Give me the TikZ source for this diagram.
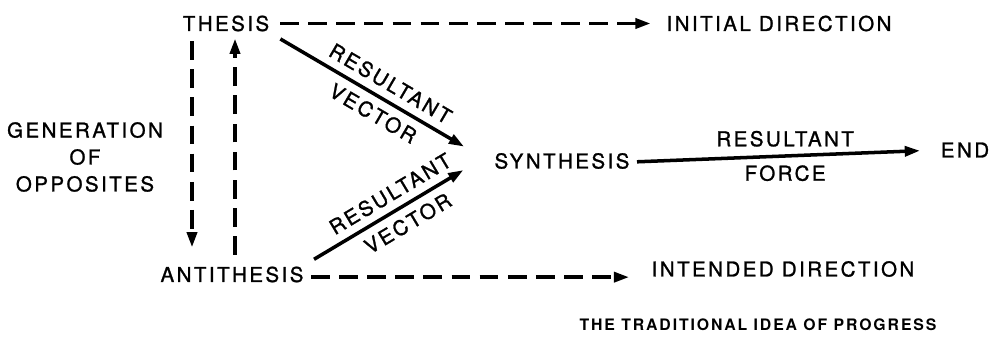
\documentclass[tikz,border=0pt]{standalone}
\usepackage{fontspec}
\newfontfamily\heros{TeX Gyre Heros}[LetterSpace=12, FakeBold=1.2]
\newfontfamily\herosb{TeX Gyre Heros}[LetterSpace=12]
\usepackage{tikz}
\usetikzlibrary{arrows.meta, positioning}

\begin{document}
\begin{tikzpicture}[x=0.3mm, y=-0.3mm,
  word/.style={font=\heros\fontsize{17.5}{23}\selectfont, inner sep=2pt, align=center},
  lbl/.style={font=\heros\fontsize{17.5}{20}\selectfont, inner sep=6.5pt},
  arrow/.style={-{Triangle[length=13pt, width=8.5pt]}, line width=3pt},
  darrow/.style={arrow, dash pattern=on 16pt off 8pt},
]
  \useasboundingbox (0,0) rectangle (1000,344);

  % Left: thesis, antithesis and the opposites between them
  \node[word] (thesis) at (226,23.5) {THESIS};
  \node[word] (anti) at (232,274.5) {ANTITHESIS};
  \node[word] (gen) at (85,157) {GENERATION\\OF\\OPPOSITES};

  \draw[darrow, shorten <=2.2mm, shorten >=5mm]
    ([xshift=-10.2mm]thesis.south) -- ([xshift=-10.2mm]thesis.south |- anti.north);
  \draw[darrow, shorten <=2.8mm, shorten >=1.4mm]
    ([xshift=2.7mm]thesis.south |- anti.north) -- ([xshift=2.7mm]thesis.south);

  % Middle: the two vectors into synthesis
  \node[word] (synth) at (562,161) {SYNTHESIS};

  \draw[arrow, shorten <=3mm, shorten >=9.7mm] (thesis.south east) --
    node[lbl, sloped, above] {RESULTANT}
    node[lbl, sloped, below] {VECTOR} ([yshift=-0.6mm]synth.west);
  \draw[arrow, shorten <=2.8mm, shorten >=10mm] (anti.north east) --
    node[lbl, sloped, above] {RESULTANT}
    node[lbl, sloped, below] {VECTOR} ([yshift=2.4mm]synth.west);

  % Right: directions and end
  \node[word] (initial) at (779,23.5) {INITIAL DIRECTION};
  \node[word] (intended) at (783,269) {INTENDED DIRECTION};
  \node[word] (end) at (965,150) {END};

  \draw[darrow, shorten <=2.5mm, shorten >=4mm] (thesis.east) -- (initial.west);
  \draw[darrow, shorten <=1.5mm, shorten >=6mm] ([yshift=-0.8mm]anti.east) -- ([yshift=-0.8mm]anti.east -| intended.west);
  \draw[arrow, shorten <=1.5mm, shorten >=5.5mm] ([yshift=-0.3mm]synth.east) --
    node[lbl, above] {RESULTANT}
    node[lbl, below] {FORCE} (end.west);

  % Caption
  \node[font=\herosb\bfseries\fontsize{13.5}{16}\selectfont, inner sep=0pt] (caption) at (758,325)
    {THE TRADITIONAL IDEA OF PROGRESS};
\end{tikzpicture}
\end{document}
